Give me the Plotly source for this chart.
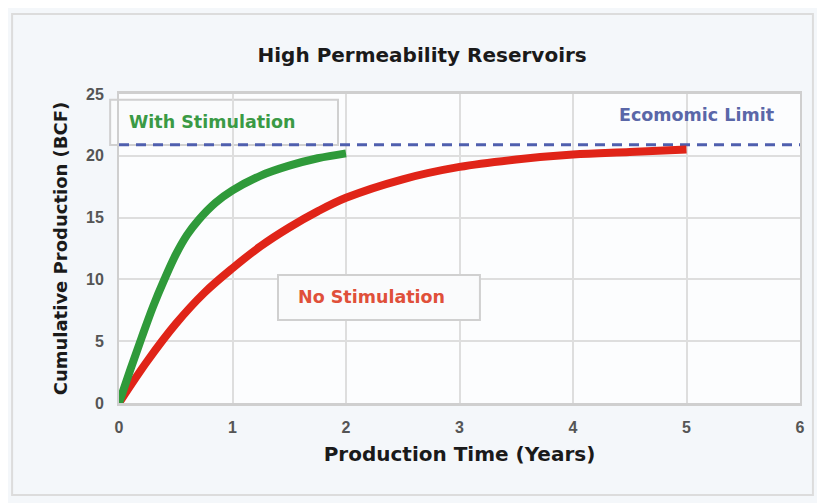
import plotly.graph_objects as go

# Data
years_with = [0, 0.1, 0.2, 0.3, 0.4, 0.5, 0.6, 0.7, 0.85, 1.0, 1.25, 1.5, 1.75, 2.0]
prod_with = [0, 2.7, 5.3, 7.8, 10.0, 12.0, 13.6, 14.8, 16.2, 17.2, 18.4, 19.2, 19.8, 20.2]

years_no = [0, 0.25, 0.5, 0.75, 1.0, 1.25, 1.5, 1.75, 2.0, 2.5, 3.0, 3.5, 4.0, 4.5, 5.0]
prod_no = [0, 3.4, 6.4, 8.9, 10.9, 12.7, 14.2, 15.5, 16.6, 18.1, 19.1, 19.7, 20.1, 20.3, 20.5]

limit_x = [0, 6]
limit_y = [20.9, 20.9]

x_ticks = [0, 1, 2, 3, 4, 5, 6]
y_ticks = [0, 5, 10, 15, 20, 25]

FONT = "DejaVu Sans"
TICKFONT = "Liberation Sans Narrow, Liberation Sans"

fig = go.Figure()
fig.add_trace(go.Scatter(x=limit_x, y=limit_y, mode="lines",
                         line=dict(color="#4f5fae", width=3, dash="10px,7px"),
                         showlegend=False, hoverinfo="skip"))
fig.add_trace(go.Scatter(x=years_no, y=prod_no, mode="lines",
                         line=dict(color="#e02418", width=8, shape="spline"),
                         showlegend=False))
fig.add_trace(go.Scatter(x=years_with, y=prod_with, mode="lines",
                         line=dict(color="#2f9a3a", width=8, shape="spline"),
                         showlegend=False))

shapes = [
    # outer slide frame
    dict(type="rect", xref="paper", yref="paper", x0=-0.157, x1=1.019, y0=-0.298, y1=1.259,
         line=dict(color="#dcdcdc", width=2), fillcolor="rgba(0,0,0,0)", layer="below"),
    # With Stimulation box
    dict(type="rect", xref="paper", yref="paper", x0=-0.013, x1=0.3216, y0=0.835, y1=0.981,
         line=dict(color="#d0d0d0", width=2), fillcolor="#fafbfc", layer="below"),
    # No Stimulation box
    dict(type="rect", xref="paper", yref="paper", x0=0.2335, x1=0.530, y0=0.269, y1=0.414,
         line=dict(color="#d0d0d0", width=2), fillcolor="#fafbfc", layer="above"),
]

annotations = [
    dict(text="<b>With Stimulation</b>", xref="paper", yref="paper", x=0.0117, y=0.909,
         xanchor="left", yanchor="middle", showarrow=False,
         font=dict(family=FONT, size=17.5, color="#3a9a45")),
    dict(text="<b>No Stimulation</b>", xref="paper", yref="paper", x=0.26, y=0.343,
         xanchor="left", yanchor="middle", showarrow=False,
         font=dict(family=FONT, size=17.5, color="#e0503a")),
    dict(text="<b>Ecomomic Limit</b>", xref="paper", yref="paper", x=0.731, y=0.932,
         xanchor="left", yanchor="middle", showarrow=False,
         font=dict(family=FONT, size=17.5, color="#5a67a8")),
]

fig.update_layout(
    width=825, height=503,
    margin=dict(l=111, r=33, t=86, b=108),
    paper_bgcolor="#f4f7fa",
    plot_bgcolor="#fcfdfe",
    title=dict(text="<b>High Permeability Reservoirs</b>", x=0.502, xanchor="center",
               y=0.907, yanchor="middle",
               font=dict(family=FONT, size=20, color="#1a1a1a")),
    shapes=shapes,
    annotations=annotations,
    xaxis=dict(range=[0, 6], tickvals=x_ticks, ticktext=[str(v) for v in x_ticks],
               showgrid=True, gridcolor="#dedede", gridwidth=2,
               zeroline=False, showline=True, linecolor="#cfcfcf", linewidth=3, mirror=True,
               ticks="", ticklabelstandoff=8,
               tickfont=dict(family=TICKFONT, size=16, color="#555555", weight="bold"),
               title=dict(text="<b>Production Time (Years)</b>", standoff=12,
                          font=dict(family=FONT, size=20, color="#1a1a1a"))),
    yaxis=dict(range=[0, 25], tickvals=y_ticks, ticktext=[str(v) for v in y_ticks],
               showgrid=True, gridcolor="#dedede", gridwidth=2,
               zeroline=False, showline=True, linecolor="#cfcfcf", linewidth=2, mirror=True,
               ticks="", ticklabelstandoff=10,
               tickfont=dict(family=TICKFONT, size=16, color="#555555", weight="bold"),
               title=dict(text="<b>Cumulative Production (BCF)</b>", standoff=14,
                          font=dict(family=FONT, size=18, color="#1a1a1a"))),
)

fig.write_html("out.html")
